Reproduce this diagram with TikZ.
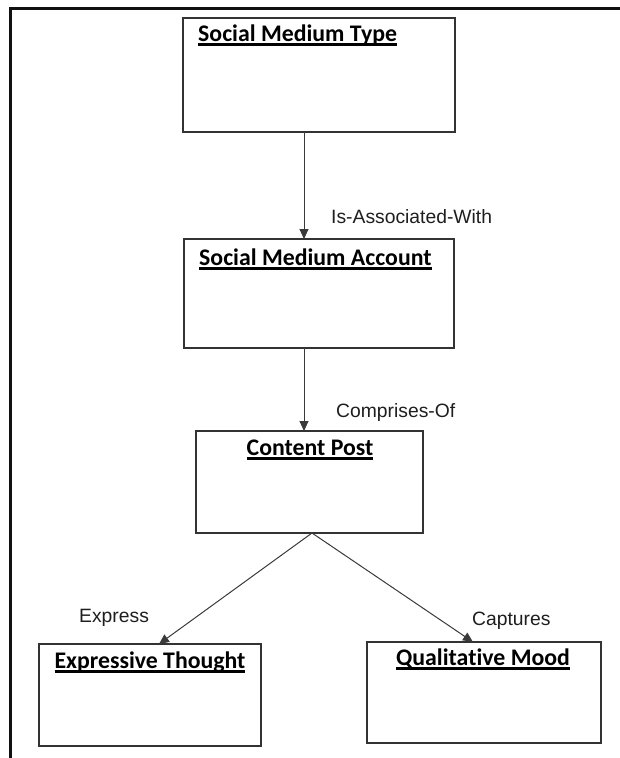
\documentclass[tikz,border=0pt]{standalone}
\usepackage{fontspec}
\setmainfont{Liberation Sans}
\newfontfamily\titlefont[Ligatures={NoCommon}]{Carlito}
\usetikzlibrary{arrows.meta}
% bold title with a heavy underline spanning the text width
\newcommand\ultitle[1]{\setbox0\hbox{#1}\rlap{\vrule height -2.4pt depth 4.6pt width \wd0}\box0}
\definecolor{boxgray}{HTML}{333333}
\definecolor{linegray}{HTML}{3A3A3A}
\definecolor{labelgray}{HTML}{1E1E1E}
\definecolor{framecol}{HTML}{111111}
\begin{document}
\begin{tikzpicture}[x=1pt,y=-1pt,
  entity/.style={draw=boxgray, line width=1.3pt, inner sep=0pt, outer sep=0pt},
  ttl/.style={font=\titlefont\bfseries\fontsize{23.8}{28}\selectfont, inner sep=0pt, anchor=base},
  lbl/.style={font=\fontsize{19.3}{23}\selectfont, text=labelgray, inner sep=0pt, anchor=base west},
  conn/.style={draw=linegray, line width=1pt, -{Triangle[length=10pt,width=9pt]}}]
\useasboundingbox (0,0) rectangle (620,758);

% outer frame (top and left edges)
\draw[framecol, line width=3pt] (624,8.5) -- (10,8.5) -- (10,762);

% entity boxes
\node[entity, minimum width=272pt, minimum height=114pt] (b1) at (319,75) {};
\node[entity, minimum width=270pt, minimum height=109pt] (b2) at (319,293.5) {};
\node[entity, minimum width=227pt, minimum height=102pt] (b3) at (309.5,482) {};
\node[entity, minimum width=222pt, minimum height=102pt] (b4) at (150,695) {};
\node[entity, minimum width=234pt, minimum height=101pt] (b5) at (484,692.5) {};

% titles
\node[ttl, anchor=base west] (t1) at (198,41) {\ultitle{Social Medium Type}};
\node[ttl, anchor=base west] (t2) at (199,265) {\ultitle{Social Medium Account}};
\node[ttl] (t3) at (310,455) {\ultitle{Content Post}};
\node[ttl] (t4) at (150,668) {\ultitle{Expressive Thought}};
\node[ttl] (t5) at (483,665) {\ultitle{Qualitative Mood}};

% connector columns
\coordinate (c1) at (304,0);
\coordinate (c2) at (312,0);
\coordinate (c3) at (159,0);
\coordinate (c4) at (473,0);

\draw[conn] (b1.south -| c1) -- (b2.north -| c1);
\draw[conn] (b2.south -| c1) -- (b3.north -| c1);
\draw[conn] (b3.south -| c2) -- (b4.north -| c3);
\draw[conn] (b3.south -| c2) -- (b5.north -| c4);

% relationship labels
\node[lbl] (l1) at (331,223) {Is-Associated-With};
\node[lbl] (l2) at (336,417) {Comprises-Of};
\node[lbl] (l3) at (79,622) {Express};
\node[lbl] (l4) at (472,625) {Captures};
\end{tikzpicture}
\end{document}
